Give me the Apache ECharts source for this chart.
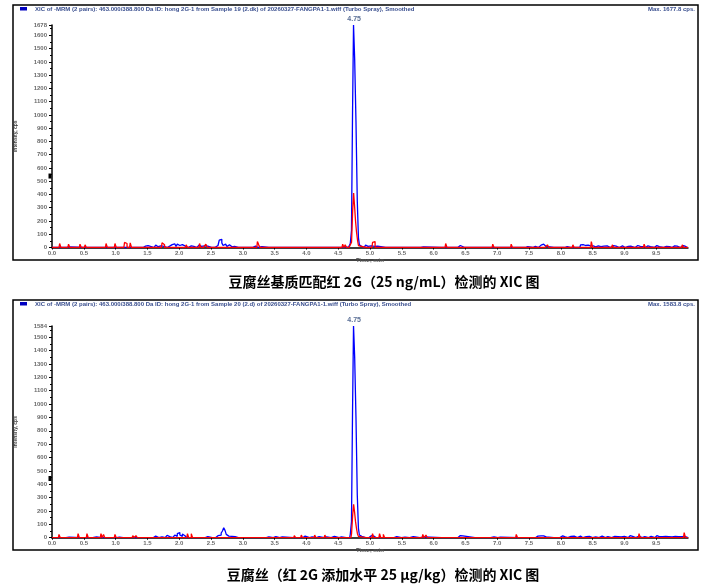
<!DOCTYPE html>
<html><head><meta charset="utf-8">
<script src="https://cdn.jsdelivr.net/npm/echarts@6/dist/echarts.min.js"></script>
<style>html,body{margin:0;padding:0;background:#fff}#c{width:711px;height:588px}</style>
</head><body><div id="c"></div>
<script>
// ---------- data ----------
const headerTop = 'XIC of -MRM (2 pairs): 463.000/388.800 Da ID: hong 2G-1 from Sample 19 (2.dk) of 20260327-FANGPA1-1.wiff (Turbo Spray), Smoothed';
const headerBottom = 'XIC of -MRM (2 pairs): 463.000/388.800 Da ID: hong 2G-1 from Sample 20 (2.d) of 20260327-FANGPA1-1.wiff (Turbo Spray), Smoothed';
const maxTop = 'Max. 1677.8 cps.';
const maxBottom = 'Max. 1583.8 cps.';
const captionTop = '豆腐丝基质匹配红 2G（25 ng/mL）检测的 XIC 图';
const captionBottom = '豆腐丝（红 2G 添加水平 25 μg/kg）检测的 XIC 图';
const yMaxTop = 1678;
const yMaxBottom = 1584;
const peakTime = 4.75;
const thresholdTop = 539;
const thresholdBottom = 443;

// [time (min), intensity (cps)]
const topBlue = [
[0,0],[0.12,0],[0.13,8],[0.15,0],[0.17,6],[0.19,0],[0.27,5],[0.29,0],
[0.74,0],[0.75,8],[0.77,0],[0.8,6],[0.82,0],
[1.35,0],[1.36,8],[1.38,0],[1.4,6],[1.42,0],
[1.45,0],[1.46,10],[1.48,5],[1.5,14],[1.52,0],[1.55,8],[1.57,12],[1.59,0],[1.62,10],[1.64,18],[1.66,6],[1.68,0],[1.71,12],[1.73,20],[1.75,8],[1.77,15],[1.79,0],
[1.84,0],[1.86,10],[1.88,22],[1.9,12],[1.92,28],[1.94,18],[1.96,8],[1.98,25],[2.0,30],[2.02,15],[2.04,10],[2.06,22],[2.08,12],[2.1,5],[2.12,0],
[2.16,0],[2.18,12],[2.2,20],[2.22,8],[2.24,15],[2.26,0],[2.3,10],[2.32,18],[2.34,8],[2.36,0],[2.4,12],[2.42,22],[2.44,10],[2.46,15],[2.48,0],
[2.56,0],[2.58,8],[2.6,15],[2.62,30],[2.64,55],[2.66,62],[2.68,35],[2.7,15],[2.72,25],[2.74,18],[2.76,8],[2.78,20],[2.8,12],[2.82,5],[2.84,15],[2.86,8],[2.88,0],
[2.98,0],[3.0,8],[3.02,0],[3.08,6],[3.1,0],[3.2,10],[3.22,5],[3.24,0],[3.3,6],[3.32,0],
[3.5,0],[3.52,5],[3.54,0],[3.7,0],[3.72,8],[3.74,0],[3.9,0],[3.92,6],[3.94,0],[4.05,0],[4.07,8],[4.09,0],[4.2,0],[4.22,6],[4.24,0],[4.4,0],[4.42,8],[4.44,0],
[4.56,0],[4.58,10],[4.6,6],[4.62,12],[4.64,0],
[4.68,0],[4.7,30],[4.718,130],[4.733,1020],[4.749,1678],[4.769,1420],[4.79,950],[4.81,350],[4.826,75],[4.84,20],[4.86,8],[4.88,15],[4.9,0],
[4.92,10],[4.94,18],[4.96,8],[4.98,0],[5.02,12],[5.04,20],[5.06,8],[5.08,0],[5.12,10],[5.14,0],
[5.35,0],[5.37,6],[5.39,0],[5.5,0],[5.52,8],[5.54,0],[5.65,0],[5.67,6],[5.69,0],[5.8,0],[5.82,10],[5.84,5],[5.86,0],
[6.38,0],[6.4,12],[6.42,15],[6.44,8],[6.46,0],[6.52,10],[6.54,0],[6.6,8],[6.62,0],
[6.8,0],[6.82,8],[6.84,0],[6.95,0],[6.97,6],[6.99,0],[7.1,0],[7.12,8],[7.14,0],[7.22,0],[7.24,6],[7.26,0],
[7.44,0],[7.46,10],[7.48,6],[7.5,12],[7.52,0],[7.6,8],[7.62,0],[7.68,10],[7.7,18],[7.72,25],[7.74,15],[7.76,20],[7.78,8],[7.8,0],
[7.98,0],[8.0,8],[8.02,0],[8.1,6],[8.12,0],[8.18,8],[8.2,0],
[8.3,0],[8.32,20],[8.34,22],[8.36,18],[8.38,20],[8.4,15],[8.42,10],[8.44,18],[8.46,12],[8.48,8],[8.5,12],[8.52,6],[8.54,10],[8.56,5],[8.58,8],[8.6,12],[8.62,6],[8.64,0],
[8.68,10],[8.7,8],[8.72,12],[8.74,5],[8.76,0],[8.8,10],[8.82,14],[8.84,8],[8.86,10],[8.88,6],[8.9,0],[8.94,8],[8.96,12],[8.98,6],[9.0,10],[9.02,0],
[9.06,8],[9.08,14],[9.1,10],[9.12,6],[9.14,0],[9.2,10],[9.22,15],[9.24,8],[9.26,12],[9.28,6],[9.3,0],[9.36,8],[9.38,12],[9.4,6],[9.42,10],[9.44,0],
[9.5,8],[9.52,14],[9.54,10],[9.56,6],[9.58,0],[9.64,10],[9.66,8],[9.68,12],[9.7,6],[9.72,0],[9.78,8],[9.8,12],[9.82,10],[9.84,6],[9.86,0],
[9.9,10],[9.92,14],[9.94,8],[9.96,12],[9.98,6],[10,0]
];
const topRed = [
[0,0],[0.11,0],[0.13,30],[0.15,0],[0.25,0],[0.27,25],[0.29,0],[0.43,0],[0.45,25],[0.47,0],[0.51,0],[0.53,20],[0.55,0],[0.67,0],[0.69,15],[0.71,0],
[0.84,0],[0.86,30],[0.88,0],[0.98,0],[1.0,30],[1.02,0],
[1.13,0],[1.15,38],[1.17,30],[1.19,0],[1.22,0],[1.24,35],[1.26,0],[1.57,0],[1.59,15],[1.61,0],[1.72,0],[1.74,35],[1.76,20],[1.78,0],
[1.88,0],[1.9,15],[1.92,0],[2.1,0],[2.12,20],[2.14,0],[2.31,0],[2.33,30],[2.35,0],[2.41,0],[2.43,25],[2.45,0],
[3.22,0],[3.24,45],[3.26,20],[3.28,0],[3.48,0],[3.5,15],[3.52,0],[3.88,0],[3.9,12],[3.92,0],[4.24,0],[4.26,15],[4.28,0],
[4.56,0],[4.58,25],[4.6,0],[4.62,20],[4.64,0],
[4.7,0],[4.72,40],[4.735,280],[4.75,410],[4.765,310],[4.78,200],[4.795,120],[4.81,60],[4.825,15],[4.84,0],
[5.03,0],[5.05,38],[5.07,45],[5.09,0],[6.18,0],[6.2,30],[6.22,0],[6.92,0],[6.94,25],[6.96,0],[7.21,0],[7.23,25],[7.25,0],
[7.68,0],[7.7,15],[7.72,0],[7.78,0],[7.8,20],[7.82,0],[8.18,0],[8.2,20],[8.22,0],[8.47,0],[8.49,45],[8.51,0],
[8.8,0],[8.82,20],[8.84,0],[9.3,0],[9.32,25],[9.34,0],[9.9,0],[9.92,20],[9.94,0],[10,0]
];
const bottomBlue = [
[0,0],[0.16,0],[0.18,6],[0.2,0],[0.24,8],[0.26,5],[0.28,0],
[0.6,0],[0.62,5],[0.64,0],[0.7,6],[0.72,0],[0.84,0],[0.86,5],[0.88,0],
[1.02,0],[1.04,8],[1.06,5],[1.08,10],[1.1,0],[1.14,6],[1.16,0],
[1.52,0],[1.54,6],[1.56,0],[1.62,8],[1.64,12],[1.66,0],[1.7,10],[1.72,6],[1.74,14],[1.76,0],[1.8,10],[1.82,18],[1.84,8],[1.86,15],[1.88,0],
[1.92,12],[1.94,20],[1.96,10],[1.98,30],[2.0,38],[2.02,20],[2.04,10],[2.06,28],[2.08,15],[2.1,5],[2.12,0],
[2.25,0],[2.27,8],[2.29,0],[2.35,6],[2.37,0],[2.45,8],[2.47,0],
[2.57,0],[2.59,10],[2.61,15],[2.63,8],[2.65,20],[2.67,35],[2.69,50],[2.71,75],[2.73,55],[2.75,25],[2.77,12],[2.79,0],[2.83,10],[2.85,15],[2.87,8],[2.89,12],[2.91,0],[2.95,8],[2.97,0],
[3.3,0],[3.32,8],[3.34,0],[3.4,10],[3.42,6],[3.44,0],[3.52,8],[3.54,0],[3.62,6],[3.64,10],[3.66,0],
[3.94,0],[3.96,8],[3.98,12],[4.0,6],[4.02,0],[4.08,10],[4.1,6],[4.12,0],[4.2,8],[4.22,12],[4.24,0],[4.32,6],[4.34,0],[4.44,10],[4.46,8],[4.48,0],[4.55,6],[4.57,0],
[4.68,0],[4.7,25],[4.718,120],[4.733,950],[4.749,1584],[4.769,1350],[4.79,900],[4.81,320],[4.826,70],[4.84,20],[4.86,10],[4.88,0],
[4.98,0],[5.0,12],[5.02,15],[5.04,8],[5.06,12],[5.08,0],[5.12,10],[5.14,0],
[5.3,0],[5.32,6],[5.34,0],[5.42,8],[5.44,0],[5.55,5],[5.57,0],[5.68,8],[5.7,6],[5.72,0],[5.85,6],[5.87,0],
[6.38,0],[6.4,12],[6.42,16],[6.44,10],[6.46,14],[6.48,8],[6.5,0],
[6.8,0],[6.82,5],[6.84,0],[6.95,6],[6.97,0],[7.05,5],[7.07,0],
[7.6,0],[7.62,8],[7.64,12],[7.66,10],[7.68,14],[7.7,12],[7.72,8],[7.74,14],[7.76,10],[7.78,6],[7.8,0],
[7.98,0],[8.0,8],[8.02,14],[8.04,10],[8.06,6],[8.08,12],[8.1,8],[8.12,0],[8.16,10],[8.18,6],[8.2,12],[8.22,5],[8.24,0],
[8.28,8],[8.3,12],[8.32,6],[8.34,10],[8.36,0],[8.4,8],[8.42,12],[8.44,10],[8.46,6],[8.48,0],[8.52,10],[8.54,6],[8.56,12],[8.58,0],
[8.62,8],[8.64,12],[8.66,6],[8.68,0],[8.72,10],[8.74,8],[8.76,12],[8.78,0],[8.82,6],[8.84,10],[8.86,0],
[8.9,8],[8.92,12],[8.94,6],[8.96,0],[9.0,10],[9.02,8],[9.04,0],[9.08,12],[9.1,15],[9.12,18],[9.14,10],[9.16,0],[9.2,8],[9.22,12],[9.24,6],[9.26,0],
[9.3,10],[9.32,8],[9.34,12],[9.36,0],[9.4,8],[9.42,10],[9.44,6],[9.46,0],[9.5,12],[9.52,15],[9.54,8],[9.56,0],[9.6,8],[9.62,12],[9.64,10],[9.66,0],
[9.7,8],[9.72,12],[9.74,6],[9.76,0],[9.8,10],[9.82,14],[9.84,8],[9.86,0],[9.9,8],[9.92,12],[9.94,10],[9.96,6],[10,0]
];
const bottomRed = [
[0,0],[0.1,0],[0.12,25],[0.14,0],[0.4,0],[0.42,30],[0.44,0],[0.54,0],[0.56,30],[0.58,0],[0.76,0],[0.78,30],[0.8,0],[0.82,25],[0.84,0],
[0.98,0],[1.0,25],[1.02,0],[1.26,0],[1.28,15],[1.3,0],[1.31,0],[1.33,15],[1.35,0],
[2.12,0],[2.14,30],[2.16,0],[2.18,0],[2.2,30],[2.22,0],[2.88,0],[2.9,12],[2.92,0],[3.22,0],[3.24,12],[3.26,0],
[3.8,0],[3.82,15],[3.84,0],[3.91,0],[3.93,20],[3.95,0],[4.12,0],[4.14,20],[4.16,0],[4.28,0],[4.3,20],[4.32,0],
[4.7,0],[4.72,30],[4.735,170],[4.75,250],[4.765,190],[4.78,120],[4.795,70],[4.81,30],[4.825,10],[4.84,0],
[5.03,0],[5.05,30],[5.07,0],[5.14,0],[5.16,30],[5.18,0],[5.2,0],[5.22,25],[5.24,0],[5.82,0],[5.84,25],[5.86,0],[5.87,0],[5.89,20],[5.91,0],
[7.29,0],[7.31,25],[7.33,0],[9.22,0],[9.24,30],[9.26,0],[9.93,0],[9.95,38],[9.97,0],[10,0]
];

// ---------- chart ----------
const chart = echarts.init(document.getElementById('c'), null, {renderer: 'canvas'});
const grids = [
  {left: 52, top: 25, width: 636, height: 222.5},
  {left: 52, top: 326, width: 636, height: 211.7}
];
const lblStyle = {fontSize: 6, color: '#6b6b6b', fontWeight: 'bold', fontFamily: 'Arial, Liberation Sans'};
function xAxis(i) {
  return {
    type: 'value', gridIndex: i, min: 0, max: 10, interval: 0.5,
    axisLine: {onZero: false, lineStyle: {color: '#000', width: 1.5}},
    axisTick: {show: true, length: 2, lineStyle: {color: '#000'}},
    axisLabel: Object.assign({margin: 3, showMaxLabel: false, formatter: v => v.toFixed(1)}, lblStyle),
    splitLine: {show: false},
    name: 'Time, min', nameLocation: 'middle', nameGap: 7,
    nameTextStyle: {fontSize: 6, color: '#555', fontWeight: 'bold'}
  };
}
function yAxis(i, max) {
  return {
    type: 'value', gridIndex: i, min: 0, max: max, interval: 100,
    axisLine: {show: true, lineStyle: {color: '#000', width: 1.5}},
    axisTick: {show: true, length: 3, lineStyle: {color: '#000'}},
    minorTick: {show: true, splitNumber: 2, length: 2, lineStyle: {color: '#000'}},
    axisLabel: Object.assign({margin: 5, showMaxLabel: true, formatter: v => String(Math.round(v))}, lblStyle),
    splitLine: {show: false},
    name: 'Intensity, cps', nameLocation: 'middle', nameRotate: 90, nameGap: 34,
    nameTextStyle: {fontSize: 5, color: '#444', fontWeight: 'bold'}
  };
}
function trace(i, data, color, extra) {
  return Object.assign({
    type: 'line', xAxisIndex: i, yAxisIndex: i, data: data, step: 'middle',
    showSymbol: false, symbol: 'none', animation: false,
    lineStyle: {color: color, width: 1.3}, z: color === '#0000ff' ? 2 : 3
  }, extra || {});
}
function peakMark(max, thr) {
  return {
    silent: true, animation: false,
    data: [
      {coord: [peakTime, max], symbol: 'circle', symbolSize: 1, itemStyle: {color: 'rgba(0,0,0,0)'},
       label: {show: true, position: 'top', distance: 2, formatter: peakTime.toFixed(2), fontSize: 7, color: '#5a6f96', fontWeight: 'bold'}},
      {coord: [0, thr], symbol: 'rect', symbolSize: [3, 5], symbolOffset: [-2, 0], itemStyle: {color: '#000'}, label: {show: false}}
    ]
  };
}
const headerStyle = {fontSize: 6, fill: '#3a4f8f', fontWeight: 'bold', fontFamily: 'Arial, Liberation Sans'};
chart.setOption({
  animation: false,
  backgroundColor: '#fff',
  grid: grids,
  xAxis: [xAxis(0), xAxis(1)],
  yAxis: [yAxis(0, yMaxTop), yAxis(1, yMaxBottom)],
  series: [
    trace(0, topBlue, '#0000ff', {markPoint: peakMark(yMaxTop, thresholdTop)}),
    trace(0, topRed, '#ff0000'),
    trace(1, bottomBlue, '#0000ff', {markPoint: peakMark(yMaxBottom, thresholdBottom)}),
    trace(1, bottomRed, '#ff0000')
  ],
  graphic: [
    {type: 'rect', shape: {x: 13, y: 5, width: 685, height: 255}, style: {fill: 'none', stroke: '#000', lineWidth: 1.5}, silent: true},
    {type: 'rect', shape: {x: 13, y: 300, width: 685, height: 250}, style: {fill: 'none', stroke: '#000', lineWidth: 1.5}, silent: true},
    {type: 'rect', shape: {x: 20, y: 7, width: 7, height: 3.5}, style: {fill: '#0000c0'}, silent: true},
    {type: 'rect', shape: {x: 20, y: 302, width: 7, height: 3.5}, style: {fill: '#0000c0'}, silent: true},
    {type: 'text', x: 35, y: 9, style: Object.assign({text: headerTop, verticalAlign: 'middle'}, headerStyle), silent: true},
    {type: 'text', x: 35, y: 304, style: Object.assign({text: headerBottom, verticalAlign: 'middle'}, headerStyle), silent: true},
    {type: 'text', x: 695, y: 9, style: Object.assign({text: maxTop, align: 'right', verticalAlign: 'middle'}, headerStyle), silent: true},
    {type: 'text', x: 695, y: 304, style: Object.assign({text: maxBottom, align: 'right', verticalAlign: 'middle'}, headerStyle), silent: true},
    {type: 'text', x: 384, y: 282, style: {text: captionTop, align: 'center', verticalAlign: 'middle', fontSize: 14, fontWeight: 'bold', fill: '#000', fontFamily: 'Noto Sans CJK SC'}, silent: true},
    {type: 'text', x: 383, y: 575, style: {text: captionBottom, align: 'center', verticalAlign: 'middle', fontSize: 14, fontWeight: 'bold', fill: '#000', fontFamily: 'Noto Sans CJK SC'}, silent: true}
  ]
});
</script></body></html>
